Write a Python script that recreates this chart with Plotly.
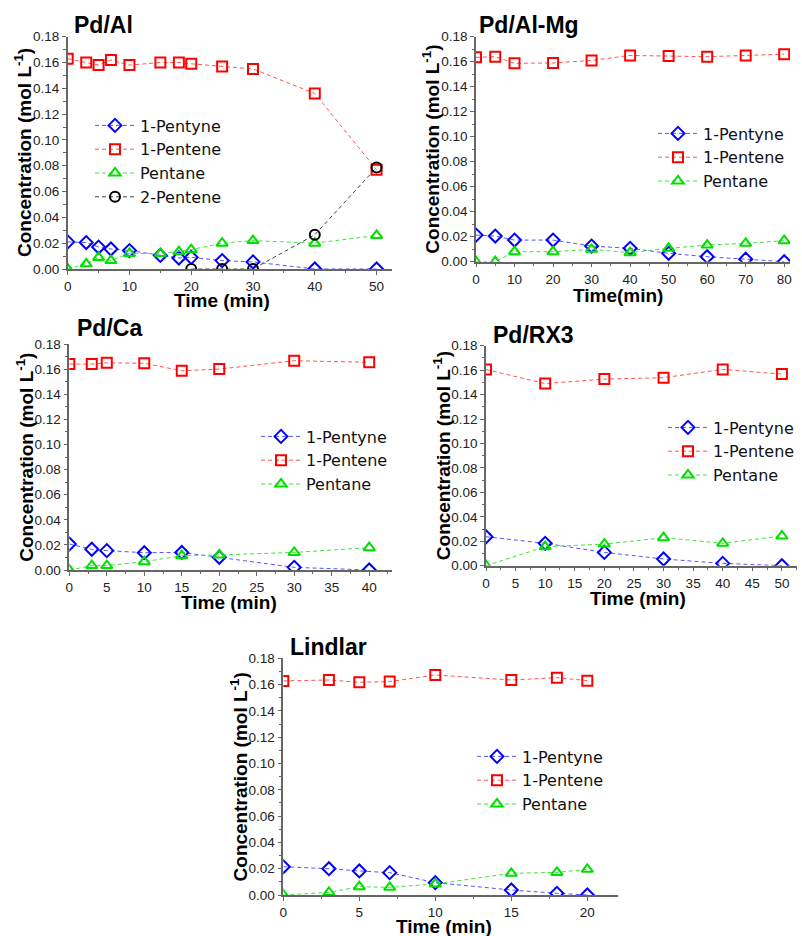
import plotly.graph_objects as go

# ---------------- data ----------------
# Pd/Al
al_t = [0, 3, 5, 7, 10, 15, 18, 20, 25, 30, 40, 50]
al_pentyne = [0.021, 0.0205, 0.017, 0.0155, 0.0143, 0.0105, 0.0085, 0.009, 0.0065, 0.0055, 0.0, 0.0]
al_pentene = [0.163, 0.160, 0.158, 0.162, 0.158, 0.160, 0.160, 0.159, 0.157, 0.155, 0.136, 0.077]
al_pentane = [0.0, 0.004, 0.009, 0.0065, 0.012, 0.012, 0.0135, 0.015, 0.020, 0.022, 0.020, 0.026]
al_t2 = [20, 25, 30, 40, 50]
al_2pentene = [0.0, 0.0, 0.0, 0.0265, 0.0787]

# Pd/Al-Mg
mg_t = [0, 5, 10, 20, 30, 40, 50, 60, 70, 80]
mg_pentyne = [0.0213, 0.0205, 0.0173, 0.0173, 0.0125, 0.0107, 0.0067, 0.004, 0.002, 0.0]
mg_pentene = [0.1635, 0.164, 0.1587, 0.159, 0.161, 0.165, 0.1645, 0.164, 0.165, 0.166]
mg_pentane = [0.0, 0.0, 0.008, 0.008, 0.0099, 0.0072, 0.0107, 0.0133, 0.0147, 0.0168]

# Pd/Ca
ca_t = [0, 3, 5, 10, 15, 20, 30, 40]
ca_pentyne = [0.0207, 0.0165, 0.0154, 0.0138, 0.014, 0.0101, 0.0021, 0.0]
ca_pentene = [0.164, 0.164, 0.165, 0.1646, 0.1587, 0.160, 0.1667, 0.1654]
ca_pentane = [0.0, 0.0035, 0.0035, 0.0066, 0.0114, 0.012, 0.014, 0.0178]

# Pd/RX3
rx_t = [0, 10, 20, 30, 40, 50]
rx_pentyne = [0.0237, 0.0183, 0.0109, 0.0055, 0.0019, 0.0]
rx_pentene = [0.1605, 0.149, 0.1527, 0.1538, 0.1606, 0.1568]
rx_pentane = [0.0, 0.0155, 0.0177, 0.0229, 0.0183, 0.0243]

# Lindlar
li_t = [0, 3, 5, 7, 10, 15, 18, 20]
li_pentyne = [0.0215, 0.020, 0.0183, 0.017, 0.0094, 0.0038, 0.0013, 0.0]
li_pentene = [0.1628, 0.1635, 0.1618, 0.1623, 0.1673, 0.1635, 0.1653, 0.163]
li_pentane = [0.0, 0.002, 0.0063, 0.0058, 0.0084, 0.0165, 0.0172, 0.0195]

panel_titles = ["Pd/Al", "Pd/Al-Mg", "Pd/Ca", "Pd/RX3", "Lindlar"]
x_titles = ["Time (min)", "Time(min)", "Time (min)", "Time (min)", "Time (min)"]
y_title = "Concentration (mol L<sup>-1</sup>)"

# ---------------- layout geometry (pixels) ----------------
W, H = 802, 936
FONT = "Arial, 'Liberation Sans', sans-serif"
LEG_FONT = "'DejaVu Sans', Arial, sans-serif"

def px_x(v):
    return v / W

def px_y(v):
    return 1 - v / H

# plot areas: (left, right, top, bottom) in px
areas = [
    (67.7, 392.0, 36.7, 269.0),
    (476.0, 790.0, 36.7, 261.7),
    (69.3, 391.7, 344.0, 570.0),
    (486.0, 797.3, 345.7, 565.7),
    (283.3, 617.7, 658.3, 895.0),
]
x_ranges = [[0, 52.5], [0, 81.5], [0, 43], [0, 52.6], [0, 22]]
x_dticks = [10, 10, 5, 5, 5]
x_minor = [5, 5, 2.5, 2.5, 2.5]
title_pos = [(72, 25), (477, 25), (75, 328), (491, 335), (288, 647)]
xtitle_pos = [(222, 301), (618, 295), (229, 602), (638, 598), (444, 926)]
legend_pos = [(90, 108.5), (653, 116.5), (256, 419.5), (663, 410.5), (472, 739.5)]

series_style = {
    "1-Pentyne": dict(symbol="diamond-open", mcolor="#0000ff", lcolor="#5555ff"),
    "1-Pentene": dict(symbol="square-open", mcolor="#ff0000", lcolor="#ff5555"),
    "Pentane": dict(symbol="triangle-up-open", mcolor="#00e000", lcolor="#44e044"),
    "2-Pentene": dict(symbol="circle-open", mcolor="#000000", lcolor="#444444"),
}

panels = [
    [(al_t, al_pentyne, "1-Pentyne"), (al_t, al_pentene, "1-Pentene"),
     (al_t, al_pentane, "Pentane"), (al_t2, al_2pentene, "2-Pentene")],
    [(mg_t, mg_pentyne, "1-Pentyne"), (mg_t, mg_pentene, "1-Pentene"),
     (mg_t, mg_pentane, "Pentane")],
    [(ca_t, ca_pentyne, "1-Pentyne"), (ca_t, ca_pentene, "1-Pentene"),
     (ca_t, ca_pentane, "Pentane")],
    [(rx_t, rx_pentyne, "1-Pentyne"), (rx_t, rx_pentene, "1-Pentene"),
     (rx_t, rx_pentane, "Pentane")],
    [(li_t, li_pentyne, "1-Pentyne"), (li_t, li_pentene, "1-Pentene"),
     (li_t, li_pentane, "Pentane")],
]

fig = go.Figure()
layout = dict(
    width=W, height=H,
    margin=dict(l=0, r=0, t=0, b=0, autoexpand=False),
    paper_bgcolor="white", plot_bgcolor="white",
    font=dict(family=FONT, color="#222"),
    annotations=[],
)

axis_color = "#666666"

for i, (series, area) in enumerate(zip(panels, areas)):
    k = "" if i == 0 else str(i + 1)
    xa, ya = "x" + k, "y" + k
    lg = "legend" + k
    l, r, t, b = area
    for xs, ys, nm in series:
        st = series_style[nm]
        fig.add_trace(go.Scatter(
            x=xs, y=ys, name=nm, mode="lines+markers",
            xaxis=xa, yaxis=ya, legend=lg,
            line=dict(color=st["lcolor"], width=1, dash="4px,3px"),
            marker=dict(symbol=st["symbol"], size=10, color=st["mcolor"],
                        line=dict(color=st["mcolor"], width=2)),
            cliponaxis=True,
        ))
    layout["xaxis" + k] = dict(
        domain=[px_x(l), px_x(r)], anchor=ya, range=x_ranges[i], automargin=False,
        showgrid=False, zeroline=False, showline=True, linecolor=axis_color, linewidth=1.5,
        ticks="outside", ticklen=4, tickwidth=1.2, tickcolor=axis_color, dtick=x_dticks[i], tick0=0,
        tickfont=dict(size=13.5, color="#222", family=FONT),
        minor=dict(ticks="outside", ticklen=2.5, tickcolor=axis_color, dtick=x_minor[i], tick0=0),
    )
    layout["yaxis" + k] = dict(
        domain=[px_y(b), px_y(t)], anchor=xa, range=[0, 0.18], automargin=False,
        showgrid=False, zeroline=False, showline=True, linecolor=axis_color, linewidth=1.5,
        ticks="outside", ticklen=4, tickwidth=1.2, tickcolor=axis_color, dtick=0.02, tick0=0,
        tickformat=".2f", tickfont=dict(size=13.5, color="#222", family=FONT),
        minor=dict(ticks="outside", ticklen=2.5, tickcolor=axis_color, dtick=0.01, tick0=0),
    )
    lx, ly = legend_pos[i]
    layout[lg] = dict(
        x=px_x(lx), y=px_y(ly), xanchor="left", yanchor="top",
        bgcolor="rgba(0,0,0,0)", borderwidth=0,
        font=dict(size=16, color="#111", family=LEG_FONT),
        itemwidth=40, tracegroupgap=0,
    )
    tx, ty = title_pos[i]
    layout["annotations"].append(dict(
        text="<b>%s</b>" % panel_titles[i], x=px_x(tx), y=px_y(ty),
        xref="paper", yref="paper", xanchor="left", yanchor="middle",
        showarrow=False, font=dict(size=23, color="#000", family=FONT),
    ))
    xx, xy = xtitle_pos[i]
    layout["annotations"].append(dict(
        text="<b>%s</b>" % x_titles[i], x=px_x(xx), y=px_y(xy),
        xref="paper", yref="paper", xanchor="center", yanchor="middle",
        showarrow=False, font=dict(size=19, color="#000", family=FONT),
    ))
    layout["annotations"].append(dict(
        text="<b>%s</b>" % y_title, x=px_x(l - 44.5), y=px_y((t + b) / 2),
        xref="paper", yref="paper", xanchor="center", yanchor="middle",
        textangle=-90, showarrow=False, font=dict(size=19, color="#000", family=FONT),
    ))

fig.update_layout(**layout)
fig.write_html("out.html", config={"displayModeBar": False},
               post_script="document.body.style.margin='0px';")
